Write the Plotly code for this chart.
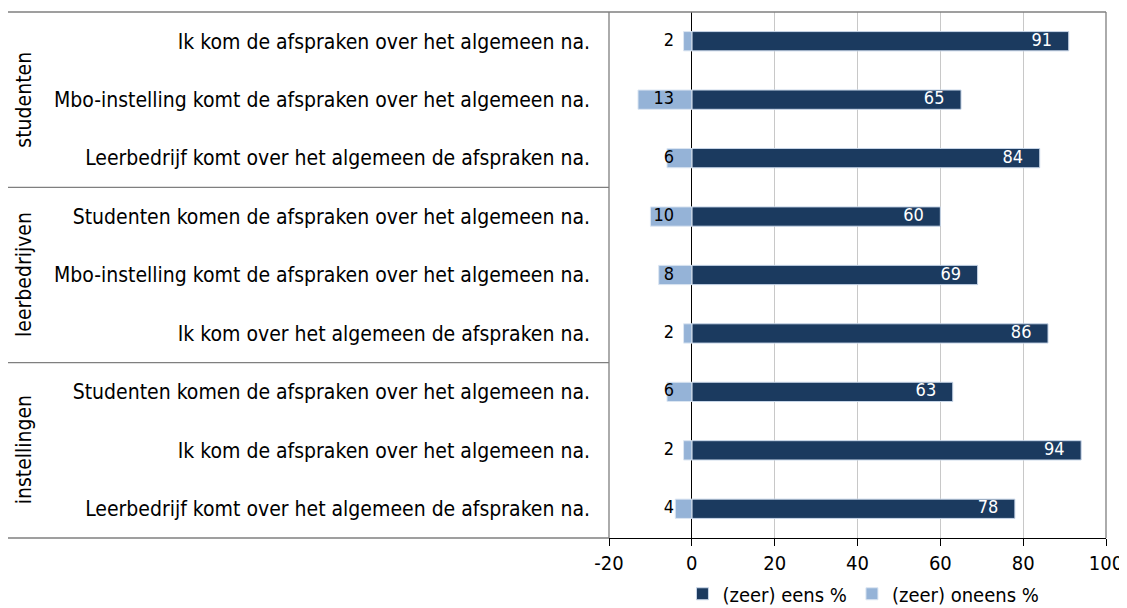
import plotly.graph_objects as go

groups = ["studenten", "leerbedrijven", "instellingen"]
statements = [
    "Ik kom de afspraken over het algemeen na.",
    "Mbo-instelling komt de afspraken over het algemeen na.",
    "Leerbedrijf komt over het algemeen de afspraken na.",
    "Studenten komen de afspraken over het algemeen na.",
    "Mbo-instelling komt de afspraken over het algemeen na.",
    "Ik kom over het algemeen de afspraken na.",
    "Studenten komen de afspraken over het algemeen na.",
    "Ik kom de afspraken over het algemeen na.",
    "Leerbedrijf komt over het algemeen de afspraken na.",
]
group_sizes = [3, 3, 3]
eens = [91, 65, 84, 60, 69, 86, 63, 94, 78]
oneens = [2, 13, 6, 10, 8, 2, 6, 2, 4]
x_ticks = [-20, 0, 20, 40, 60, 80, 100]

DARK = "#1B3A5F"
LIGHT = "#95B3D7"
FONT = "DejaVu Sans Condensed"
FS = 21

# unique category keys (statements repeat across groups)
cats = [f"{i}" for i in range(len(statements))]

fig = go.Figure()
fig.add_trace(go.Bar(
    y=cats, x=eens, orientation="h", name="(zeer) eens %",
    marker=dict(color=DARK, line=dict(color="#C8D6E8", width=1)),
    hoverinfo="skip",
))
fig.add_trace(go.Bar(
    y=cats, x=[-v for v in oneens], orientation="h", name="(zeer) oneens %",
    marker=dict(color=LIGHT, line=dict(color="#DCE6F2", width=1)),
    hoverinfo="skip",
))
# value labels
fig.add_trace(go.Scatter(
    y=cats, x=[v - 4.0 for v in eens], mode="text", text=[str(v) for v in eens],
    textposition="middle left", textfont=dict(color="white", size=18, family=FONT),
    showlegend=False, hoverinfo="skip",
))
fig.add_trace(go.Scatter(
    y=cats, x=[-4.3] * len(oneens), mode="text", text=[str(v) for v in oneens],
    textposition="middle left", textfont=dict(color="black", size=18, family=FONT),
    showlegend=False, hoverinfo="skip",
))

# the page places the figure 8px from the top-left corner
OFF = 8
W, H = 1127 - OFF, 608 - OFF
L, R, T, B = 609 - OFF, 1106 - OFF, 12 - OFF, 538 - OFF
fig.update_layout(
    width=W, height=H,
    margin=dict(l=L, r=W - R, t=T, b=H - B, autoexpand=False),
    plot_bgcolor="white", paper_bgcolor="white",
    barmode="relative", bargap=0.67,
    font=dict(family=FONT, size=FS, color="black"),
    legend=dict(orientation="h", x=0.512, xanchor="center", y=-0.106, yanchor="middle",
                font=dict(size=20, family=FONT), itemwidth=30, traceorder="normal"),
    showlegend=True,
)
fig.update_xaxes(
    range=[-20, 100], tickvals=x_ticks, ticktext=[str(t) for t in x_ticks],
    showgrid=True, gridcolor="#C8C8C8", gridwidth=1,
    zeroline=True, zerolinecolor="black", zerolinewidth=1.3,
    showline=True, linecolor="black", linewidth=1.3,
    ticks="outside", ticklen=7, tickcolor="black",
    tickfont=dict(size=20, family=FONT), automargin=False,
    fixedrange=True,
)
fig.update_yaxes(
    categoryorder="array", categoryarray=cats, autorange="reversed",
    tickvals=cats, ticktext=statements,
    tickfont=dict(size=FS, family=FONT), ticklabelstandoff=18,
    showgrid=False, showline=False, ticks="", automargin=False,
)

# frame lines
line_col = "#7F7F7F"
x_left_px = 8 - OFF
xl = (x_left_px - L) / (R - L)
shapes = []
shapes.append(dict(type="line", xref="paper", yref="paper", x0=xl, x1=1, y0=1, y1=1,
                   line=dict(color=line_col, width=1.3)))
shapes.append(dict(type="line", xref="paper", yref="paper", x0=xl, x1=0, y0=0, y1=0,
                   line=dict(color=line_col, width=1.3)))
shapes.append(dict(type="line", xref="paper", yref="paper", x0=0, x1=0, y0=0, y1=1,
                   line=dict(color=line_col, width=1.3)))
shapes.append(dict(type="line", xref="paper", yref="paper", x0=1, x1=1, y0=0, y1=1,
                   line=dict(color=line_col, width=1.3)))
n = len(statements)
pos = 0
annotations = []
for g, size in zip(groups, group_sizes):
    y_center = pos + (size - 1) / 2
    annotations.append(dict(
        xref="paper", yref="y", x=(24 - OFF - L) / (R - L), y=y_center,
        text=g, textangle=-90, showarrow=False,
        font=dict(size=FS, family=FONT, color="black"),
        xanchor="center", yanchor="middle",
    ))
    pos += size
    if pos < n:
        shapes.append(dict(type="line", xref="paper", yref="y", x0=xl, x1=0,
                           y0=pos - 0.5, y1=pos - 0.5,
                           line=dict(color=line_col, width=1.3)))
fig.update_layout(shapes=shapes, annotations=annotations)

fig.write_html("out.html")
